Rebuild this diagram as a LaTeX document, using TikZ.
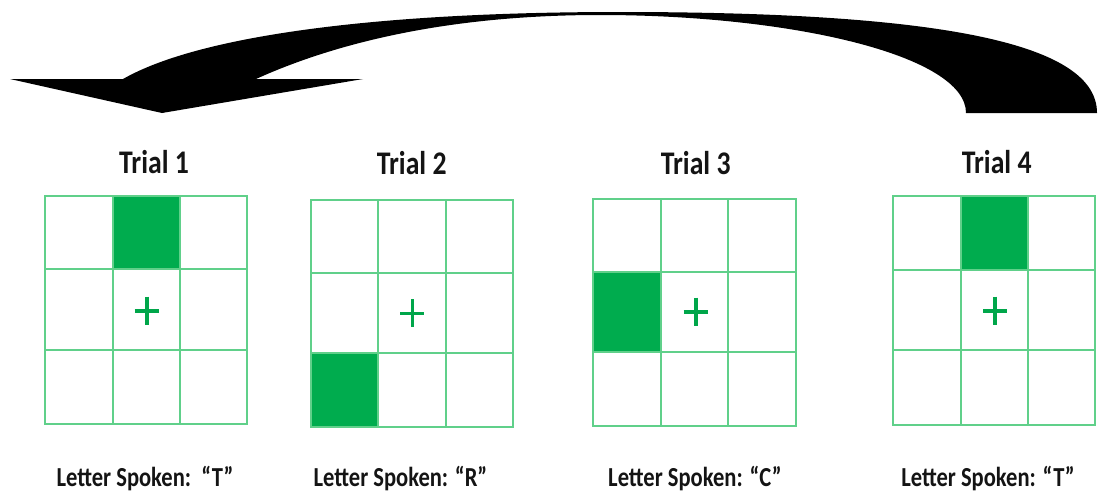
\documentclass[tikz,border=0pt]{standalone}
\usepackage{fontspec}
\setmainfont{Carlito}
\definecolor{cellgreen}{RGB}{0,172,78}
\definecolor{linegreen}{RGB}{96,208,138}
\definecolor{plusgreen}{RGB}{0,166,74}
\definecolor{inkgray}{RGB}{20,20,20}
\tikzset{
  gridline/.style={draw=linegreen, line width=2pt},
  cellfill/.style={fill=cellgreen},
  plusmark/.style={draw=plusgreen, line width=3.6pt},
  trialtitle/.style={anchor=base, inner sep=0pt, text=inkgray,
    font=\fontsize{33}{33}\selectfont\bfseries},
  spoken/.style={anchor=base, inner sep=0pt, text=inkgray,
    font=\fontsize{27.5}{27.5}\selectfont\bfseries},
}
% 3x3 grid: #1..#4 column lines, #5..#8 row lines
\newcommand\trialgrid[8]{%
  \draw[gridline] (#1,#5) rectangle (#4,#8);
  \draw[gridline] (#2,#5) -- (#2,#8) (#3,#5) -- (#3,#8)
                  (#1,#6) -- (#4,#6) (#1,#7) -- (#4,#7);
}
\newcommand\fixcross[2]{%
  \draw[plusmark] (#1-12,#2) -- (#1+12,#2) (#1,#2-14) -- (#1,#2+14);
}
\begin{document}
\begin{tikzpicture}[x=1pt,y=-1pt]
\useasboundingbox (0,0) rectangle (1099,493);

% curved return arrow from trial 4 back to trial 1
\fill[black] (10,79) -- (123,79)
  .. controls (200,35) and (380,12) .. (620,12)
  .. controls (950,12) and (1097,45) .. (1097,113)
  -- (966,113)
  .. controls (966,55) and (790,15) .. (600,15)
  .. controls (430,15) and (320,50) .. (256,79)
  -- (363,79) -- (162,113) -- cycle;

% Trial 1
\fill[cellfill] (112.7,196) rectangle (179.7,269.3);
\trialgrid{45}{112.7}{179.7}{247}{196}{269.3}{350}{424}
\fixcross{146.7}{310.7}
\node[trialtitle] (t1) at (154,173.3) {\scalebox{0.84}[1]{Trial 1}};
\node[spoken] (s1) at (145,486.7) {\scalebox{0.82}[1]{Letter Spoken:\ \ “T”}};

% Trial 2
\fill[cellfill] (310.7,353.3) rectangle (378.3,427.3);
\trialgrid{310.7}{378.3}{445.7}{512.7}{200}{273.3}{353.3}{427.3}
\fixcross{412.3}{313.3}
\node[trialtitle] (t2) at (411.7,174) {\scalebox{0.84}[1]{Trial 2}};
\node[spoken] (s2) at (400.5,486.7) {\scalebox{0.82}[1]{Letter Spoken: “R”}};

% Trial 3
\fill[cellfill] (593.3,271.7) rectangle (660.7,352.3);
\trialgrid{593.3}{660.7}{727.7}{796}{199.3}{271.7}{352.3}{425.7}
\fixcross{695.7}{311.7}
\node[trialtitle] (t3) at (695.7,174) {\scalebox{0.84}[1]{Trial 3}};
\node[spoken] (s3) at (695,486.7) {\scalebox{0.82}[1]{Letter Spoken: “C”}};

% Trial 4
\fill[cellfill] (960.7,196) rectangle (1028,270);
\trialgrid{893.3}{960.7}{1028}{1095.3}{196}{270}{350}{425}
\fixcross{995}{310.7}
\node[trialtitle] (t4) at (996.7,173.3) {\scalebox{0.84}[1]{Trial 4}};
\node[spoken] (s4) at (988,486.7) {\scalebox{0.82}[1]{Letter Spoken: “T”}};
\end{tikzpicture}
\end{document}
